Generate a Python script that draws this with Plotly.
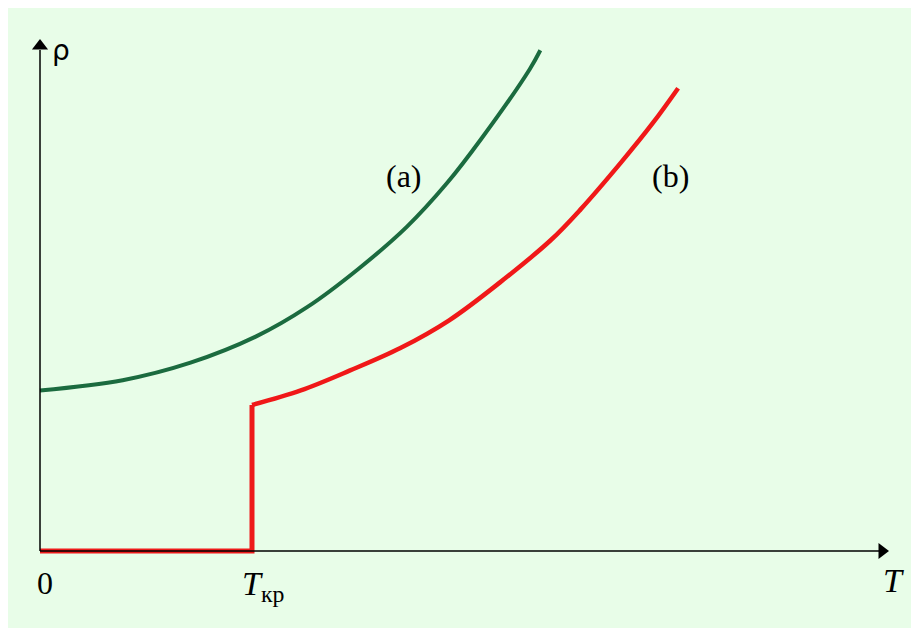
import plotly.graph_objects as go

# Curve (a): normal metal, resistivity vs temperature (T in units of T_kr)
T_a = [0.0, 0.39, 0.71, 1.02, 1.26, 1.50, 1.73, 1.92, 2.08, 2.31, 2.36]
rho_a = [1.10, 1.17, 1.29, 1.47, 1.67, 1.93, 2.22, 2.52, 2.82, 3.30, 3.43]

# Curve (b): superconductor, zero resistance below T_kr, jump at T_kr
T_b = [0.0, 1.0, 1.0, 1.23, 1.46, 1.70, 1.93, 2.17, 2.41, 2.55, 2.74, 2.89, 3.01]
rho_b = [0.0, 0.0, 1.0, 1.10, 1.235, 1.39, 1.58, 1.84, 2.13, 2.34, 2.66, 2.93, 3.17]

label_a = "(a)"
label_b = "(b)"
axis_y_label = "ρ"
axis_x_label = "<i>T</i>"
origin_label = "0"
tkr_label = "<i>T</i><sub>кр</sub>"

# page is offset by the default 8px body margin
OFF = 8
W, H = 919 - OFF, 628 - OFF
x_px0, y_px0 = 40, 551      # page pixel of the origin
sx, sy = 212.0, 146.0       # page pixels per data unit

def px_to_x(px):
    return (px - x_px0) / sx

def py_to_y(py):
    return (y_px0 - py) / sy

fig = go.Figure()

# axes lines
fig.add_shape(type="line", x0=0, y0=0, x1=px_to_x(880), y1=0,
              line=dict(color="black", width=1.5))
fig.add_shape(type="line", x0=0, y0=0, x1=0, y1=py_to_y(50),
              line=dict(color="black", width=1.5))

fig.add_trace(go.Scatter(x=T_a, y=rho_a, mode="lines",
                         line=dict(color="#1b6b3f", width=4, shape="spline", smoothing=1.0),
                         hoverinfo="skip", showlegend=False))
# step part of (b)
fig.add_trace(go.Scatter(x=T_b[:3], y=rho_b[:3], mode="lines",
                         line=dict(color="#ee1a1a", width=5),
                         hoverinfo="skip", showlegend=False))
# smooth part of (b)
fig.add_trace(go.Scatter(x=T_b[2:], y=rho_b[2:], mode="lines",
                         line=dict(color="#f01818", width=4.5, shape="spline", smoothing=1.0),
                         hoverinfo="skip", showlegend=False))

# arrowheads as triangle markers
fig.add_trace(go.Scatter(x=[px_to_x(882)], y=[0], mode="markers",
                         marker=dict(symbol="triangle-right", size=14, color="black",
                                     line=dict(width=0)),
                         hoverinfo="skip", showlegend=False))
fig.add_trace(go.Scatter(x=[0], y=[py_to_y(46)], mode="markers",
                         marker=dict(symbol="triangle-up", size=14, color="black",
                                     line=dict(width=0)),
                         hoverinfo="skip", showlegend=False))

serif = "Liberation Serif, Times New Roman, serif"
def txt(px, py, s, size, family=serif):
    fig.add_annotation(x=px_to_x(px), y=py_to_y(py), xref="x", yref="y",
                       text=s, showarrow=False,
                       font=dict(size=size, color="black", family=family))

txt(61, 50, axis_y_label, 28, "DejaVu Sans")
txt(45, 583, origin_label, 32, serif)
fig.add_annotation(x=px_to_x(240), y=py_to_y(563), xref="x", yref="y",
                   xanchor="left", yanchor="top",
                   text=tkr_label, showarrow=False,
                   font=dict(size=34, color="black", family=serif))
txt(893, 580, axis_x_label, 34)
txt(404, 176, label_a, 32)
txt(670, 176, label_b, 32)

fig.update_xaxes(range=[px_to_x(OFF), px_to_x(919)], visible=False, fixedrange=True)
fig.update_yaxes(range=[py_to_y(628), py_to_y(OFF)], visible=False, fixedrange=True)
fig.update_layout(width=W, height=H,
                  margin=dict(l=0, r=0, t=0, b=0, pad=0),
                  paper_bgcolor="#e8fde8", plot_bgcolor="#e8fde8",
                  showlegend=False)

fig.write_html("out.html")
